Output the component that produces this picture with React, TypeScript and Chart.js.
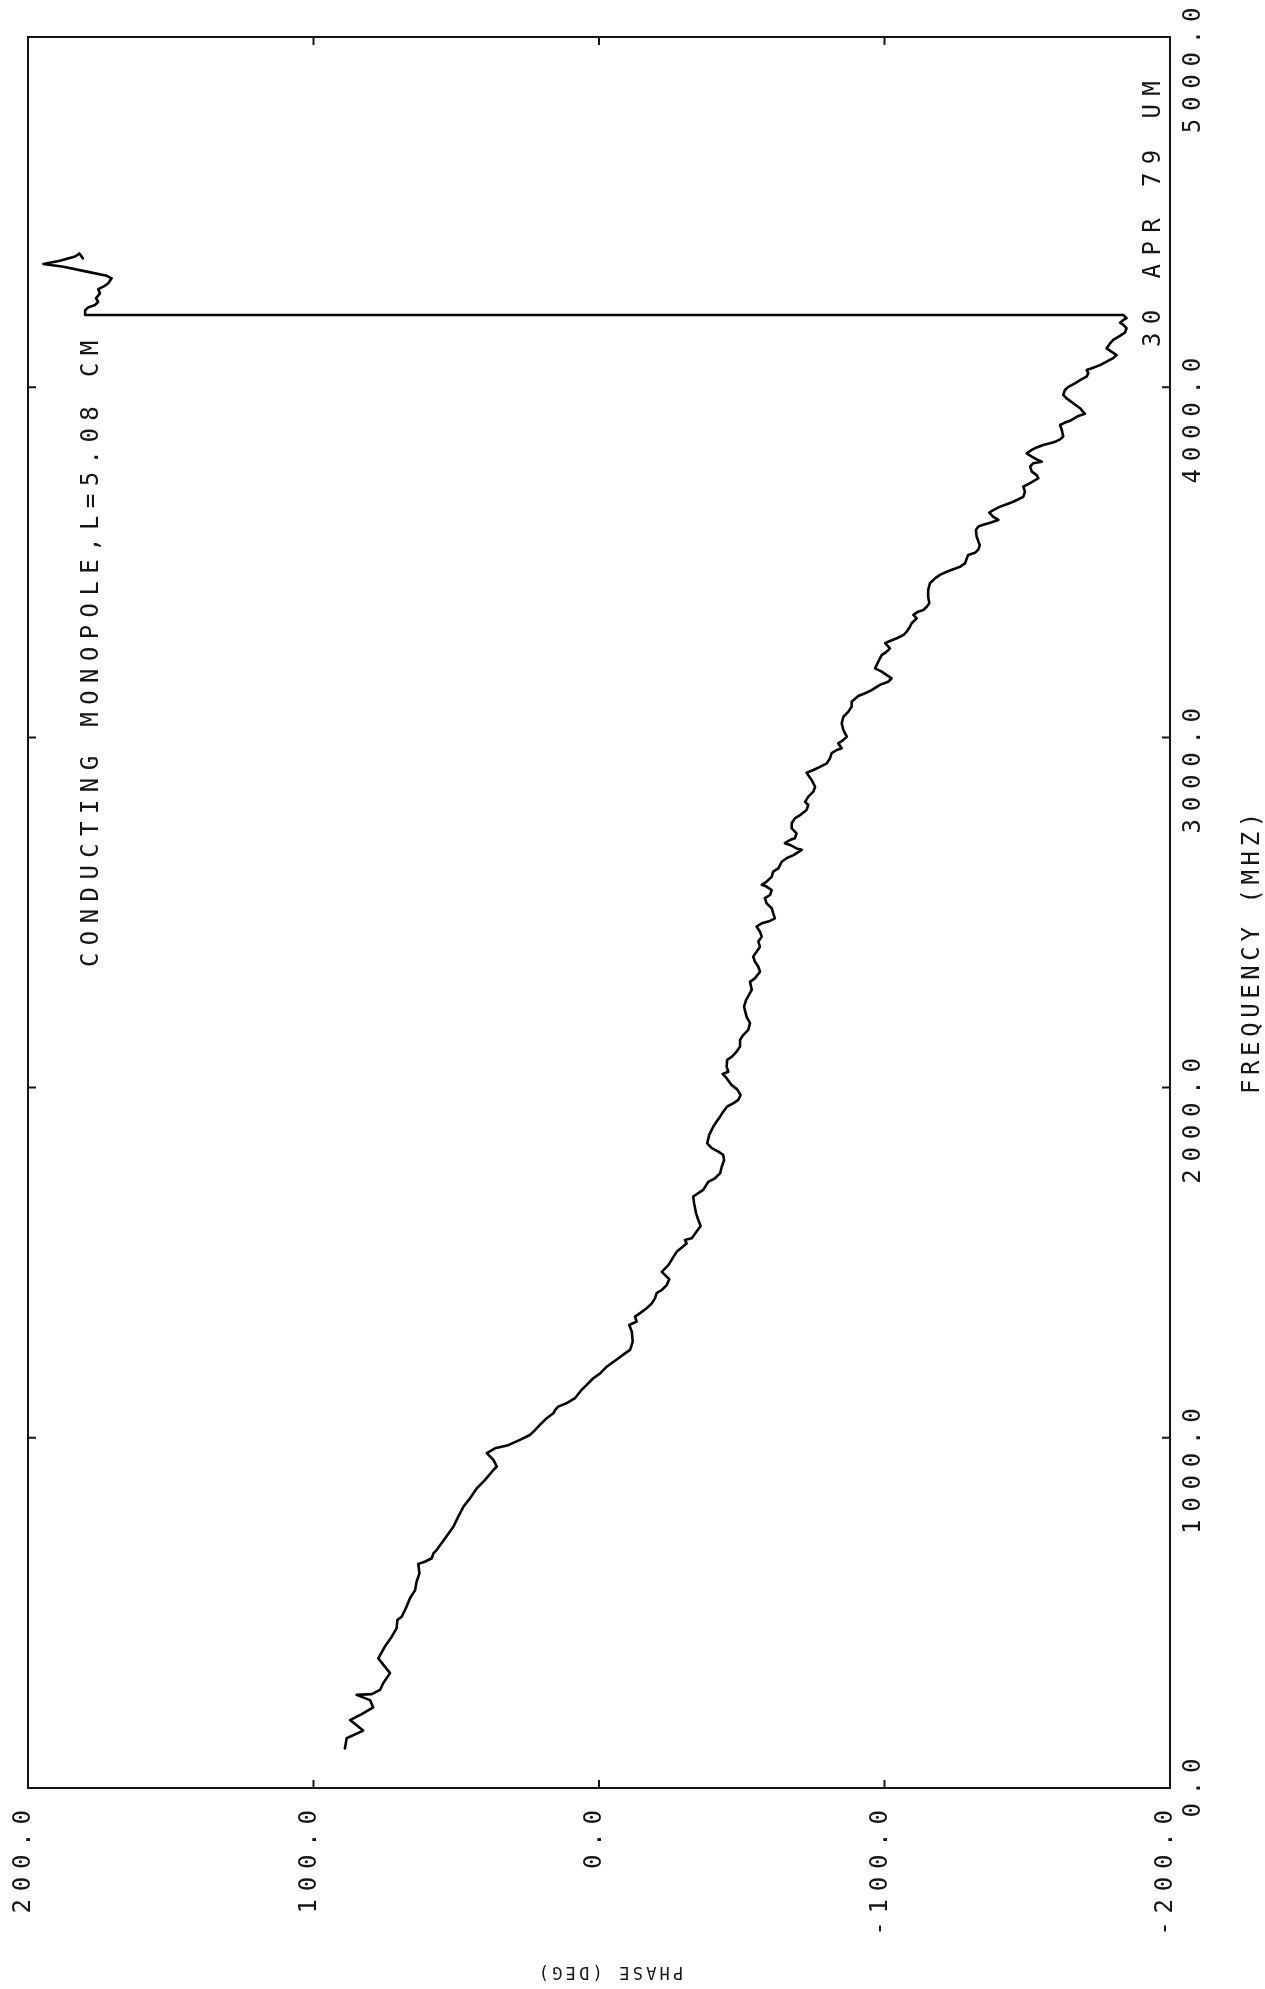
import React, { useEffect, useRef } from 'react';
import { Chart, registerables } from 'chart.js';

Chart.register(...registerables);

// Frequency (MHz) of each traced sample
const frequencyMHz = [
  113, 142, 164, 194, 211, 230, 251, 266, 268, 280, 299, 328, 370, 404, 432, 456, 480, 489, 518, 542, 565, 589, 613, 640, 646, 656, 670,
  680, 713, 746, 775, 803, 827, 856, 880, 908, 918, 937, 956, 970, 979, 994, 1008, 1022, 1037, 1056, 1070, 1079, 1089, 1099, 1113, 1137, 1151, 1170,
  1184, 1203, 1227, 1241, 1251, 1274, 1303, 1322, 1332, 1346, 1356, 1370, 1384, 1398, 1413, 1422, 1436, 1453, 1474, 1493, 1513, 1531, 1555, 1565, 1570, 1589, 1605, 1622, 1641, 1670, 1689, 1708,
  1731, 1741, 1755, 1774, 1793, 1808, 1817, 1827, 1841, 1865, 1888, 1903, 1917, 1931, 1946, 1955, 1965, 1979, 1995, 2007, 2027, 2039, 2045, 2060, 2079, 2088, 2103, 2117, 2136, 2150, 2165, 2184, 2202, 2231, 2250, 2279,
  2302, 2312, 2331, 2345, 2360, 2374, 2388, 2402, 2417, 2431, 2445, 2460, 2469, 2476, 2483, 2498, 2512, 2526, 2541, 2550, 2564, 2574, 2579, 2588, 2602, 2617, 2626, 2645, 2655, 2664, 2679, 2683, 2693, 2698, 2707, 2712, 2726, 2740, 2755, 2769, 2778, 2793, 2807, 2816, 2831, 2845,
  2859, 2878, 2899, 2907, 2916, 2926, 2940, 2955, 2964, 2969, 2983, 2993, 3002, 3021, 3040, 3059, 3073, 3088, 3102, 3118, 3126, 3135, 3150, 3159, 3169, 3178, 3188, 3197, 3216, 3235, 3245, 3254, 3269, 3273, 3283, 3292, 3302, 3316, 3326, 3340, 3350, 3359, 3364, 3373, 3383, 3402, 3421,
  3440, 3454, 3464, 3473, 3480, 3487, 3497, 3511, 3521, 3527, 3537, 3549, 3559, 3573, 3592, 3602, 3607, 3613, 3621, 3630, 3642, 3649, 3659, 3666, 3673, 3680, 3687, 3702, 3716, 3726, 3740, 3749, 3759, 3773, 3783, 3787, 3794, 3802, 3811, 3821, 3828, 3835, 3840, 3844, 3851, 3859, 3878, 3892, 3899, 3904,
  3918, 3924, 3940, 3954, 3968, 3978, 3992, 4001, 4011, 4023, 4030, 4040, 4049, 4054, 4063, 4073, 4083, 4092, 4101, 4111, 4125, 4135, 4144, 4156, 4168, 4178, 4184, 4192, 4197, 4206,
  4206, 4220, 4228, 4235, 4244, 4254, 4268, 4280, 4287, 4297, 4311, 4318, 4330, 4344, 4352, 4361, 4373, 4382, 4368,
];

// Phase (degrees) of each traced sample
const phaseDeg = [
  89.0, 88.4, 82.6, 87.2, 83.1, 79.1, 80.2, 84.9, 79.6, 76.7, 75.6, 73.2, 77.3, 75.0, 72.6, 70.9, 70.6, 69.1, 67.4, 66.2, 64.4, 63.9, 62.9, 63.3, 61.0, 58.6, 58.0,
  56.8, 53.9, 51.0, 49.3, 47.5, 45.2, 42.8, 39.9, 37.0, 35.8, 37.0, 39.3, 36.4, 31.8, 27.7, 24.2, 22.4, 20.7, 18.3, 16.0, 15.4, 14.3, 11.3, 8.4, 6.1, 4.3, 2.0,
  -0.4, -2.7, -6.8, -9.1, -10.9, -11.8, -11.5, -10.6, -13.2, -12.6, -14.4, -16.7, -18.5, -19.6, -20.2, -22.0, -23.7, -24.6, -22.0, -24.3, -25.8, -27.2, -30.7, -30.1, -32.5, -34.2, -35.6, -34.8, -34.0, -33.3, -33.0, -36.5,
  -38.3, -40.6, -42.4, -43.0, -43.8, -43.5, -41.8, -39.5, -37.9, -38.6, -40.0, -41.2, -42.4, -43.5, -44.9, -47.0, -48.8, -49.6, -48.4, -46.5, -44.7, -43.3, -45.3, -44.7, -44.9, -46.5, -48.2, -49.4, -49.4, -50.5, -52.3, -52.9, -51.7, -50.8, -51.5, -53.5,
  -52.9, -54.6, -56.4, -55.8, -54.6, -54.0, -55.2, -56.4, -55.8, -57.0, -56.4, -55.2, -57.0, -59.9, -61.6, -61.0, -60.5, -58.7, -58.1, -59.9, -60.5, -58.7, -57.0, -58.7, -60.5, -61.0, -62.8, -64.0, -65.7, -68.1, -71.0, -69.2, -66.9, -65.1, -66.9, -68.6, -69.2, -67.5, -67.5, -68.6, -70.4, -72.7, -73.3, -72.2, -73.3, -75.1,
  -75.7, -74.5, -72.7, -75.1, -77.4, -79.8, -80.9, -81.5, -83.3, -85.0, -83.8, -85.6, -86.8, -85.6, -85.0, -85.6, -87.3, -88.5, -88.5, -90.8, -93.2, -95.5, -98.4, -101.3, -102.5, -100.8, -99.0, -96.7, -97.8, -99.0, -100.8, -101.9, -100.2, -101.3, -104.3, -106.6, -107.8, -108.9, -109.5, -111.3, -110.1, -111.8, -113.6, -114.8, -115.7, -115.3, -115.3,
  -115.9, -117.7, -119.4, -121.8, -124.1, -126.4, -128.2, -128.8, -129.3, -131.7, -132.9, -133.4, -132.9, -132.3, -132.0, -132.9, -134.6, -137.0, -139.9, -138.1, -136.7, -138.1, -140.5, -142.8, -145.1, -146.9, -148.6, -149.2, -148.6, -151.0, -153.9, -153.3, -151.6, -151.0, -152.1, -155.1, -153.3, -151.6, -149.8, -151.6, -153.3, -155.6, -158.0, -159.7, -161.5, -162.6, -162.1, -161.5, -163.2, -165.0,
  -167.9, -170.2, -168.5, -166.1, -163.8, -162.6, -163.2, -164.4, -166.7, -169.1, -170.8, -171.4, -170.8, -172.6, -175.5, -177.8, -180.1, -181.3, -179.6, -177.8, -179.0, -180.1, -181.9, -184.2, -184.8, -183.7, -182.5, -183.7, -184.8, -183.7,
  180.0, 180.0, 178.9, 176.5, 175.4, 176.2, 174.8, 175.4, 173.6, 171.9, 170.7, 172.4, 179.4, 187.6, 194.6, 188.8, 183.5, 182.0, 180.8,
];

const freqTicks = [0, 1000, 2000, 3000, 4000, 5000];
const freqTickLabels = ['0.0', '1000.0', '2000.0', '3000.0', '4000.0', '5000.0'];
const phaseTicks = [200, 100, 0, -100, -200];
const phaseTickLabels = ['200.0', '100.0', '0.0', '-100.0', '-200.0'];
const titleText = 'CONDUCTING MONOPOLE,L=5.08 CM';
const dateText = '30 APR 79 UM';
const freqAxisTitle = 'FREQUENCY (MHZ)';
const phaseAxisTitle = 'PHASE (DEG)';

const INK = '#161616';
const LABEL_FONT = '24px "DejaVu Sans Mono"';
const LABEL_SP = 7.8;

function setFont(ctx: CanvasRenderingContext2D, font: string, sp: number) {
  ctx.font = font;
  (ctx as any).letterSpacing = sp + 'px';
}

function textWidth(ctx: CanvasRenderingContext2D, s: string, sp: number) {
  return ctx.measureText(s).width - sp;
}

// text reading bottom-to-top; baseline at screen x (glyphs extend left), starting at y going upward
function drawUp(ctx: CanvasRenderingContext2D, s: string, x: number, y: number) {
  ctx.save();
  ctx.translate(x, y);
  ctx.rotate(-Math.PI / 2);
  ctx.textAlign = 'left';
  ctx.textBaseline = 'alphabetic';
  ctx.fillText(s, 0, 0);
  ctx.restore();
}

const plotterPlugin = {
  id: 'plotter',
  beforeDraw(chart: any) {
    const ctx = chart.ctx as CanvasRenderingContext2D;
    ctx.save();
    ctx.fillStyle = '#ffffff';
    ctx.fillRect(0, 0, chart.width, chart.height);
    ctx.restore();
  },
  afterDraw(chart: any) {
    const ctx = chart.ctx as CanvasRenderingContext2D;
    const { left, right, top, bottom } = chart.chartArea;
    const xs = chart.scales.x;
    const ys = chart.scales.y;
    ctx.save();
    ctx.strokeStyle = INK;
    ctx.fillStyle = INK;
    ctx.lineWidth = 2;
    ctx.lineCap = 'butt';
    ctx.strokeRect(left, top, right - left, bottom - top);

    const tl = 8;
    ctx.beginPath();
    phaseTicks.forEach((v) => {
      const px = xs.getPixelForValue(v);
      if (Math.abs(px - left) < 2 || Math.abs(px - right) < 2) return;
      ctx.moveTo(px, bottom); ctx.lineTo(px, bottom - tl);
      ctx.moveTo(px, top); ctx.lineTo(px, top + tl);
    });
    freqTicks.forEach((v) => {
      const py = ys.getPixelForValue(v);
      if (Math.abs(py - top) < 2 || Math.abs(py - bottom) < 2) return;
      ctx.moveTo(left, py); ctx.lineTo(left + tl, py);
      ctx.moveTo(right, py); ctx.lineTo(right - tl, py);
    });
    ctx.stroke();

    setFont(ctx, LABEL_FONT, LABEL_SP);
    const halfAdv = (ctx.measureText('0').width - LABEL_SP) / 2;

    // phase tick labels (bottom), reading upward, ending 22px below the frame
    phaseTicks.forEach((v, i) => {
      const px = xs.getPixelForValue(v);
      const s = phaseTickLabels[i];
      const w = textWidth(ctx, s, LABEL_SP);
      drawUp(ctx, s, px + 2, bottom + 22 + w);
    });

    // frequency tick labels (right), decimal point on the tick
    freqTicks.forEach((v, i) => {
      const py = ys.getPixelForValue(v);
      const s = freqTickLabels[i];
      const pre = s.slice(0, s.indexOf('.'));
      const pw = ctx.measureText(pre).width;
      drawUp(ctx, s, right + 30, py + pw + halfAdv);
    });

    // annotations
    setFont(ctx, LABEL_FONT, 7.4);
    drawUp(ctx, titleText, left + 70, 967);
    setFont(ctx, LABEL_FONT, 8.4);
    drawUp(ctx, dateText, right - 10, 347);

    setFont(ctx, '24px "DejaVu Sans Mono"', 4.6);
    drawUp(ctx, freqAxisTitle, right + 89, 1094);

    // phase axis title, upside down
    setFont(ctx, '17px "DejaVu Sans Mono"', 3.2);
    const tw = textWidth(ctx, phaseAxisTitle, 3.2);
    ctx.save();
    ctx.translate(611 + tw / 2, bottom + 179);
    ctx.rotate(Math.PI);
    ctx.textAlign = 'left';
    ctx.textBaseline = 'alphabetic';
    ctx.fillText(phaseAxisTitle, 0, 0);
    ctx.restore();

    ctx.restore();
  },
};

export default function App() {
  const canvasRef = useRef<HTMLCanvasElement | null>(null);

  useEffect(() => {
    const canvas = canvasRef.current;
    if (!canvas) return;
    const points = frequencyMHz.map((f, i) => ({ x: phaseDeg[i], y: f }));
    const chart = new Chart(canvas, {
      type: 'scatter',
      data: {
        datasets: [
          {
            data: points,
            showLine: true,
            borderColor: '#050505',
            borderWidth: 2.6,
            pointRadius: 0,
            pointHoverRadius: 0,
            tension: 0,
            fill: false,
            borderJoinStyle: 'round',
            borderCapStyle: 'round',
          } as any,
        ],
      },
      options: {
        animation: false,
        responsive: false,
        maintainAspectRatio: false,
        devicePixelRatio: 1,
        layout: { padding: { left: 28, right: 95, top: 37, bottom: 201 } },
        plugins: { legend: { display: false }, tooltip: { enabled: false } },
        scales: {
          x: { type: 'linear', min: -200, max: 200, reverse: true, display: false },
          y: { type: 'linear', min: 0, max: 5000, display: false },
        },
      },
      plugins: [plotterPlugin as any],
    });
    return () => chart.destroy();
  }, []);

  return (
    <div style={{ position: 'absolute', left: 0, top: 0, width: 1265, height: 1989, overflow: 'hidden', background: '#fff' }}>
      <canvas ref={canvasRef} width={1265} height={1989} style={{ display: 'block', width: 1265, height: 1989 }} />
    </div>
  );
}
